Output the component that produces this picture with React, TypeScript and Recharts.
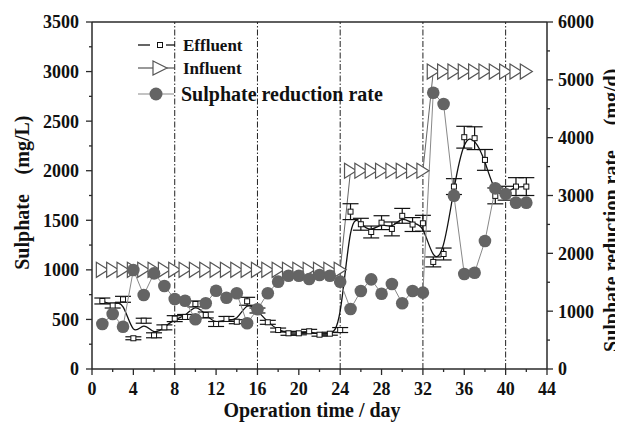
import React from 'react';
import { ComposedChart, Line, XAxis, YAxis, ErrorBar, ReferenceLine } from 'recharts';

const days = [1, 2, 3, 4, 5, 6, 7, 8, 9, 10, 11, 12, 13, 14, 15, 16, 17, 18, 19, 20, 21, 22, 23, 24, 25, 26, 27, 28, 29, 30, 31, 32, 33, 34, 35, 36, 37, 38, 39, 40, 41, 42];
const effluent = [686, 640, 703, 310, 487, 340, 420, 508, 525, 656, 545, 454, 505, 477, 683, 590, 471, 393, 360, 360, 380, 346, 356, 393, 1587, 1460, 1382, 1476, 1413, 1545, 1457, 1470, 1080, 1160, 1840, 2338, 2328, 2109, 1746, 1773, 1840, 1840];
const effluentErr = [30, 25, 30, 15, 25, 25, 25, 30, 25, 30, 30, 25, 25, 20, 40, 25, 20, 20, 20, 15, 20, 15, 15, 25, 80, 60, 60, 70, 70, 75, 70, 80, 50, 60, 80, 110, 115, 105, 80, 70, 90, 90];
const influent = [1000, 1000, 1000, 1000, 1000, 1000, 1000, 1000, 1000, 1000, 1000, 1000, 1000, 1000, 1000, 1000, 1000, 1000, 1000, 1000, 1000, 1000, 1000, 1000, 2000, 2000, 2000, 2000, 2000, 2000, 2000, 2000, 3000, 3000, 3000, 3000, 3000, 3000, 3000, 3000, 3000, 3000];
const reductionRate = [778, 951, 731, 1712, 1280, 1654, 1435, 1210, 1181, 859, 1136, 1354, 1233, 1309, 790, 1032, 1309, 1510, 1613, 1613, 1556, 1625, 1613, 1510, 1037, 1349, 1550, 1302, 1470, 1136, 1349, 1320, 4777, 4582, 2997, 1643, 1665, 2213, 3124, 3026, 2876, 2876];

const xTicks = [0, 2, 4, 6, 8, 10, 12, 14, 16, 18, 20, 22, 24, 26, 28, 30, 32, 34, 36, 38, 40, 42, 44];
const leftTicks = [0, 250, 500, 750, 1000, 1250, 1500, 1750, 2000, 2250, 2500, 2750, 3000, 3250, 3500];
const rightTicks = [0, 500, 1000, 1500, 2000, 2500, 3000, 3500, 4000, 4500, 5000, 5500, 6000];
const phaseBoundaries = [8, 16, 24, 32, 40];

const data = days.map((d, i) => ({
  day: d,
  effluent: effluent[i],
  err: effluentErr[i],
  influent: influent[i],
  rate: reductionRate[i],
}));

const FONT = "'Liberation Serif','Times New Roman',serif";
const AX = '#2a2a2a';

const tickText: React.CSSProperties = { fontFamily: FONT, fontWeight: 'bold', fontSize: 18, fill: '#111' };

const XTick = (props: any) => {
  const { x, y, payload } = props;
  const major = payload.value % 4 === 0;
  return (
    <g>
      <line x1={x} x2={x} y1={y} y2={y + (major ? 6 : 3)} stroke={AX} strokeWidth={1.3} />
      {major && (
        <text x={x} y={y + 26} textAnchor="middle" style={tickText}>{payload.value}</text>
      )}
    </g>
  );
};

const LeftTick = (props: any) => {
  const { x, y, payload } = props;
  const major = payload.value % 500 === 0;
  return (
    <g>
      <line x1={x} x2={x - (major ? 6 : 3)} y1={y} y2={y} stroke={AX} strokeWidth={1.3} />
      {major && (
        <text x={x - 13} y={y} dy="0.36em" textAnchor="end" style={tickText}>{payload.value}</text>
      )}
    </g>
  );
};

const RightTick = (props: any) => {
  const { x, y, payload } = props;
  const major = payload.value % 1000 === 0;
  return (
    <g>
      <line x1={x} x2={x + (major ? 6 : 3)} y1={y} y2={y} stroke={AX} strokeWidth={1.3} />
      {major && (
        <text x={x + 11} y={y} dy="0.36em" textAnchor="start" style={tickText}>{payload.value}</text>
      )}
    </g>
  );
};

const SquareDot = (props: any) => {
  const { cx, cy, index } = props;
  if (cx == null || cy == null) return <g key={index} />;
  return <rect key={index} x={cx - 2.5} y={cy - 2.5} width={5} height={5} fill="#fff" stroke="#111" strokeWidth={1} />;
};

const TriangleDot = (props: any) => {
  const { cx, cy, index } = props;
  if (cx == null || cy == null) return <g key={index} />;
  return (
    <path key={index} d={`M${cx - 6},${cy - 7.5} L${cx + 6},${cy} L${cx - 6},${cy + 7.5} Z`} fill="#fff" stroke="#555" strokeWidth={1.2} />
  );
};

const CircleDot = (props: any) => {
  const { cx, cy, index } = props;
  if (cx == null || cy == null) return <g key={index} />;
  return <circle key={index} cx={cx} cy={cy} r={6.3} fill="#646464" />;
};

const titleStyle: React.CSSProperties = { fontFamily: FONT, fontWeight: 'bold', fontSize: 20, fill: '#111' };

export default function App() {
  return (
    <div style={{ position: 'relative', width: 615, height: 414 }}>
      <ComposedChart width={615} height={414} data={data} margin={{ top: 14, right: 0, bottom: 0, left: 0 }}>
        <XAxis
          dataKey="day"
          type="number"
          domain={[0, 44]}
          ticks={xTicks}
          interval={0}
          height={53}
          tickSize={0}
          tickMargin={0}
          tickLine={false}
          tick={<XTick />}
          axisLine={{ stroke: AX, strokeWidth: 1.5 }}
        />
        <YAxis
          yAxisId="left"
          domain={[0, 3500]}
          ticks={leftTicks}
          interval={0}
          width={84}
          tickSize={0}
          tickMargin={0}
          tickLine={false}
          tick={<LeftTick />}
          axisLine={{ stroke: AX, strokeWidth: 1.5 }}
        />
        <YAxis
          yAxisId="right"
          orientation="right"
          domain={[0, 6000]}
          ticks={rightTicks}
          interval={0}
          width={76}
          tickSize={0}
          tickMargin={0}
          tickLine={false}
          tick={<RightTick />}
          axisLine={{ stroke: AX, strokeWidth: 1.5 }}
        />
        <ReferenceLine yAxisId="left" y={3500} stroke={AX} strokeWidth={1.5} />
        {phaseBoundaries.map((b) => (
          <ReferenceLine key={b} yAxisId="left" x={b} stroke="#222" strokeWidth={1} strokeDasharray="6 2 1.5 2" />
        ))}
        <Line
          yAxisId="left"
          dataKey="influent"
          type="linear"
          stroke="#666"
          strokeWidth={1}
          dot={<TriangleDot />}
          activeDot={false}
          isAnimationActive={false}
        />
        <Line
          yAxisId="left"
          dataKey="effluent"
          type="basis"
          stroke="#111"
          strokeWidth={1.3}
          dot={<SquareDot />}
          activeDot={false}
          isAnimationActive={false}
        >
          <ErrorBar dataKey="err" width={8} stroke="#111" strokeWidth={1.2} direction="y" />
        </Line>
        <Line
          yAxisId="right"
          dataKey="rate"
          type="linear"
          stroke="#888"
          strokeWidth={1}
          dot={<CircleDot />}
          activeDot={false}
          isAnimationActive={false}
        />
      </ComposedChart>
      <svg width={615} height={414} style={{ position: 'absolute', left: 0, top: 0, pointerEvents: 'none' }}>
        <line x1={130} x2={142} y1={37} y2={37} stroke="#111" strokeWidth={1.3} />
        <rect x={149.5} y={34.5} width={5} height={5} fill="#fff" stroke="#111" strokeWidth={1} />
        <line x1={158} x2={167} y1={37} y2={37} stroke="#111" strokeWidth={1.3} />
        <text x={175} y={37} dy="0.35em" style={{ ...titleStyle, fontSize: 17 }}>Effluent</text>

        <line x1={130} x2={145} y1={60} y2={60} stroke="#555" strokeWidth={1.2} />
        <path d="M145,53 L159,60 L145,67 Z" fill="#fff" stroke="#555" strokeWidth={1.2} />
        <line x1={159} x2={167} y1={60} y2={60} stroke="#555" strokeWidth={1.2} />
        <text x={175} y={60} dy="0.35em" style={{ ...titleStyle, fontSize: 17 }}>Influent</text>

        <line x1={130} x2={166} y1={86} y2={86} stroke="#888" strokeWidth={1.2} />
        <circle cx={148} cy={86} r={6.5} fill="#646464" />
        <text x={173} y={86} dy="0.35em" style={{ ...titleStyle, fontSize: 20 }}>Sulphate reduction rate</text>

        <text x={14} y={224} dy="0.35em" textAnchor="middle" transform="rotate(-90 14 224)" style={titleStyle}>Sulphate</text>
        <text x={14} y={137} dy="0.35em" textAnchor="middle" transform="rotate(-90 14 137)" style={titleStyle}>(mg/L)</text>
        <text x={603} y={243} dy="0.35em" textAnchor="middle" transform="rotate(-90 603 243)" style={titleStyle}>Sulphate reduction rate</text>
        <text x={603} y={89} dy="0.35em" textAnchor="middle" transform="rotate(-90 603 89)" style={titleStyle}>(mg/d)</text>
        <text x={304} y={409} textAnchor="middle" style={titleStyle}>Operation time / day</text>
      </svg>
    </div>
  );
}
